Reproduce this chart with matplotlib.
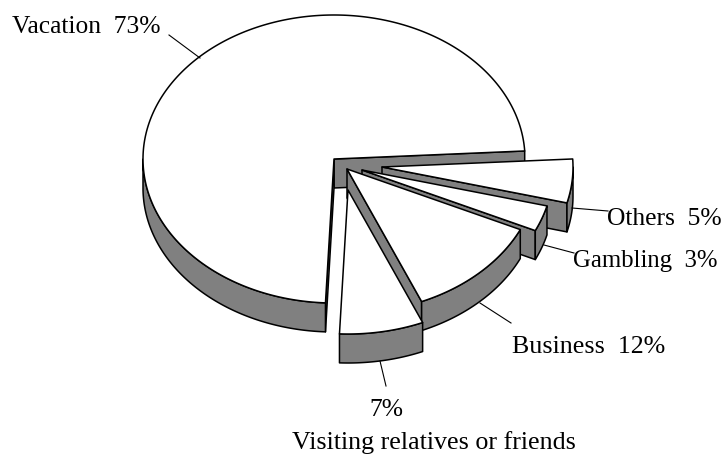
import numpy as np
import matplotlib
matplotlib.use('Agg')
import matplotlib.pyplot as plt
from matplotlib.patches import Polygon

plt.rcParams['font.family'] = ['Liberation Serif', 'DejaVu Sans']

# data
categories = ['Vacation', 'Visiting relatives or friends', 'Business', 'Gambling', 'Others']
shares = [73.4, 7.1, 11.7, 2.9, 4.9]

# pie shape, in pixels
start_angle = 3.2
center = (334, 160)
rx, ry = 191, 144
depth = 29
# how far each slice is pulled out (dx, dy)
pull = [(0, 0), (14, 31), (13, 10), (28, 11), (48, 8)]
# back to front
draw_order = [0, 4, 3, 2, 1]

GRAY = '#808080'
LW = 1.1


def arc(cx, cy, a0, a1):
    t = np.radians(np.linspace(a0, a1, max(int(abs(a1 - a0)) * 2, 2)))
    return np.column_stack([cx + rx * np.cos(t), cy - ry * np.sin(t)])


def draw_slice(ax, cx, cy, a0, a1):
    apex = np.array([[cx, cy]])
    down = np.array([0, depth])
    # cut faces that look towards the viewer
    for a, visible in ((a0, np.cos(np.radians(a0)) > 0), (a1, np.cos(np.radians(a1)) < 0)):
        if visible:
            edge = arc(cx, cy, a, a)[:1]
            quad = np.vstack([apex, edge, edge + down, apex + down])
            ax.add_patch(Polygon(quad, fc=GRAY, ec='k', lw=LW, joinstyle='round'))
    # front of the rim
    lo, hi = max(a0, 180), min(a1, 360)
    if hi > lo:
        rim = arc(cx, cy, lo, hi)
        ax.add_patch(Polygon(np.vstack([rim, rim[::-1] + down]), fc=GRAY, ec='k', lw=LW, joinstyle='round'))
    # top face
    top = np.vstack([apex, arc(cx, cy, a0, a1)])
    ax.add_patch(Polygon(top, fc='white', ec='k', lw=LW, joinstyle='round'))


fig = plt.figure(figsize=(7.25, 4.56), dpi=100)
ax = fig.add_axes([0, 0, 1, 1])
ax.set_xlim(0, 725)
ax.set_ylim(456, 0)
ax.axis('off')

edges = start_angle + 3.6 * np.concatenate([[0], np.cumsum(shares)])
for i in draw_order:
    draw_slice(ax, center[0] + pull[i][0], center[1] + pull[i][1], edges[i], edges[i + 1])

# leader lines
leaders = [((169, 36), (200, 59)), ((572, 209), (608, 212)), ((544, 246), (574, 254)),
           ((480, 304), (511, 324)), ((380, 362), (386, 387))]
for p, q in leaders:
    ax.plot([p[0], q[0]], [p[1], q[1]], color='k', lw=0.8)

fs = 18.4
ax.text(12, 33, f'{categories[0]}  {round(shares[0])}%', fontsize=fs, va='baseline')
ax.text(607, 225, f'{categories[4]}  {round(shares[4])}%', fontsize=fs, va='baseline')
ax.text(573, 267, f'{categories[3]}  {round(shares[3])}%', fontsize=17.8, va='baseline')
ax.text(512, 353, f'{categories[2]}  {round(shares[2])}%', fontsize=18.7, va='baseline')
ax.text(369, 416, f'{round(shares[1])}%', fontsize=fs, va='baseline')
ax.text(292, 449, categories[1], fontsize=18.7, va='baseline')

fig.savefig('out.png', dpi=100)
